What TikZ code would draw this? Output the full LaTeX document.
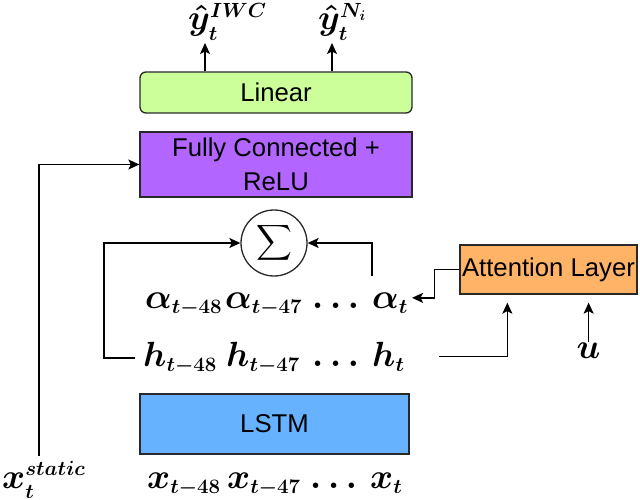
\RequirePackage{fix-cm}
\documentclass[tikz,border=0pt]{standalone}
\usepackage{amsmath}
\usepackage[no-math]{fontspec}
\setmainfont{Liberation Sans}
\DeclareMathSizes{35}{35}{20.5}{14}
\usetikzlibrary{arrows.meta}
\definecolor{cLin}{RGB}{204,255,153}
\definecolor{cFC}{RGB}{178,102,255}
\definecolor{cAtt}{RGB}{255,179,102}
\definecolor{cLSTM}{RGB}{102,178,255}
\definecolor{cEdge}{RGB}{40,40,40}
\tikzset{
  blk/.style={draw=cEdge, line width=1.3pt, inner sep=0pt, align=center,
    font=\fontsize{25.7}{34}\selectfont},
  mth/.style={inner sep=0pt, font=\fontsize{35}{40}\selectfont, anchor=base west},
  arr/.style={line width=1.4pt, -{Stealth[length=11pt,width=10pt,inset=2.5pt]}}
}
\begin{document}
\begin{tikzpicture}[x=1pt,y=-1pt]
\useasboundingbox (0,0) rectangle (640,500);
% blocks
\node[blk, fill=cLin, rounded corners=6pt, minimum width=272pt, minimum height=41pt] (lin) at (276,92.5) {Linear};
\node[blk, fill=cFC, minimum width=272pt, minimum height=65pt] (fc) at (276,164.5) {Fully Connected +\\ReLU};
\node[blk, fill=cLSTM, minimum width=269pt, minimum height=60pt] (lstm) at (274.5,424) {LSTM};
\node[blk, fill=cAtt, minimum width=177pt, minimum height=49pt] (att) at (548.5,269.5) {Attention Layer};
\node[draw=cEdge, line width=1.3pt, circle, minimum size=66pt, inner sep=0pt, font=\fontsize{25}{30}\selectfont] (sig) at (274,243) {$\displaystyle\sum$};
% outputs
\node[mth] (yiwc) at (188,30) {$\boldsymbol{\hat{y}_t^{IWC}}$};
\node[mth] (yni) at (318,30) {$\boldsymbol{\hat{y}_t^{N_i}}$};
% alpha row
\node[mth] (a48) at (145,308) {$\boldsymbol{\alpha_{t-48}}$};
\node[mth] (a47) at (225,308) {$\boldsymbol{\alpha_{t-47}}$};
\node[mth] (ad) at (312,308) {$\boldsymbol{\ldots}$};
\node[mth] (at) at (372,308) {$\boldsymbol{\alpha_t}$};
% h row
\node[mth] (h48) at (143,366) {$\boldsymbol{h_{t-48}}$};
\node[mth] (h47) at (226,366) {$\boldsymbol{h_{t-47}}$};
\node[mth] (hd) at (312,366) {$\boldsymbol{\ldots}$};
\node[mth] (ht) at (372,366) {$\boldsymbol{h_t}$};
% x row
\node[mth] (x48) at (147,488) {$\boldsymbol{x_{t-48}}$};
\node[mth] (x47) at (227,488) {$\boldsymbol{x_{t-47}}$};
\node[mth] (xd) at (310,488) {$\boldsymbol{\ldots}$};
\node[mth] (xt) at (370,488) {$\boldsymbol{x_t}$};
\node[mth] (xs) at (2,488) {$\boldsymbol{x_t^{static}}$};
\node[mth] (u) at (576.5,358) {$\boldsymbol{u}$};
% helper coordinates
\coordinate (o1) at (205,43);
\coordinate (o2) at (332,43);
\coordinate (loopL) at (104,243);
\coordinate (xsl) at (39,456);
\coordinate (attb) at ([yshift=-8pt]att.south);
% connectors
\draw[arr] (lin.north -| o1) -- (o1);
\draw[arr] (lin.north -| o2) -- (o2);
\draw[arr] (xsl) |- (fc.west);
\draw[arr] ([xshift=-8pt]h48.west) -| (loopL) -- (sig.west);
\draw[arr] ([yshift=16pt]at.north west) |- (sig.east);
\draw[arr] (att.west) -- ++(-25,0) |- ([xshift=4pt,yshift=5pt]at.east);
\draw[arr] ([xshift=34pt]ht.east) -| ([xshift=48pt,yshift=-8pt]att.south west);
\draw[arr] (u.north) -- (u.north |- attb);
\end{tikzpicture}
\end{document}
